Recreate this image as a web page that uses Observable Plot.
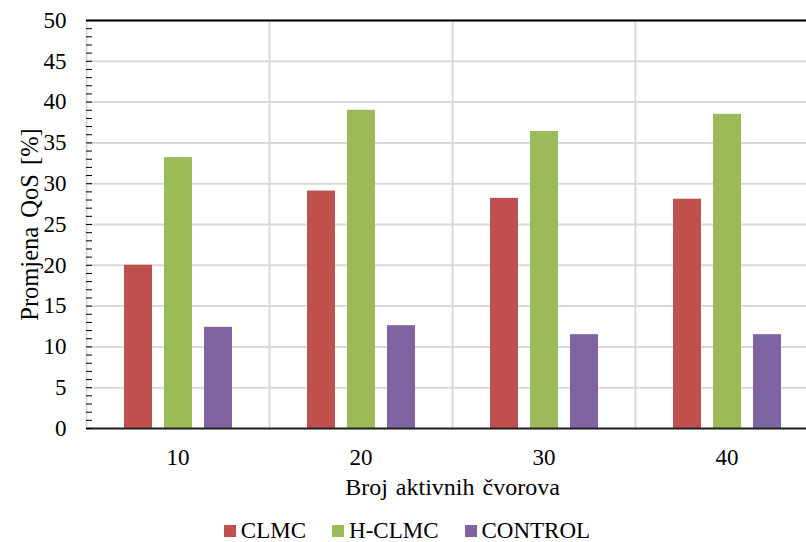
<!DOCTYPE html>
<html>
<head>
<meta charset="utf-8">
<script src="https://cdn.jsdelivr.net/npm/d3@7"></script>
<script src="https://cdn.jsdelivr.net/npm/@observablehq/plot@0.6"></script>
<style>
  html, body { margin: 0; padding: 0; background: #fff; overflow: hidden; }
  #chart { width: 806px; height: 542px; font-family: "Liberation Serif", "Times New Roman", serif; }
  #chart svg text { font-size: 23px; fill: #000; }
  #chart svg g[aria-label="y-axis label"] text { font-size: 24.5px; word-spacing: 3px; }
  #chart svg g[aria-label="fx-axis label"] text { font-size: 24px; word-spacing: 2px; }
  .legend { display: flex; justify-content: center; align-items: center; gap: 26px; font-size: 23px; color: #000; margin-top: 16px; padding-left: 8px; }
  .legend span.item { display: flex; align-items: center; }
  .legend span.sw { display: inline-block; width: 12px; height: 12px; margin-right: 5px; }
</style>
</head>
<body>
<div id="chart"></div>
<script>
const groups = ["10", "20", "30", "40"];
const series = ["CLMC", "H-CLMC", "CONTROL"];
const colors = ["#C0504D", "#9BBB59", "#8064A2"];
const clmc = [20.0, 29.1, 28.2, 28.1];
const hclmc = [33.2, 39.0, 36.4, 38.5];
const control = [12.4, 12.6, 11.5, 11.5];
const yTicks = [0, 5, 10, 15, 20, 25, 30, 35, 40, 45, 50];
const yMinor = d3.range(0, 51, 1);
const xTitle = "Broj aktivnih čvorova";
const yTitle = "Promjena QoS [%]";

const values = [clmc, hclmc, control];
const data = [];
groups.forEach((g, i) => series.forEach((s, j) => data.push({group: g, series: s, value: values[j][i]})));

const plot = Plot.plot({
  width: 806,
  height: 502,
  marginLeft: 86,
  marginRight: -12,
  marginTop: 20,
  marginBottom: 74,
  style: {fontFamily: "Liberation Serif, Times New Roman, serif", fontSize: "23px", color: "#000", background: "#fff", overflow: "visible"},
  fx: {domain: groups, padding: 0, label: xTitle},
  x: {domain: series, paddingInner: 0.3, paddingOuter: 0.9375, axis: null},
  y: {domain: [0, 50], label: yTitle},
  color: {domain: series, range: colors},
  marks: [
    Plot.gridY(yTicks, {stroke: "#d9d9d9", strokeOpacity: 1, strokeWidth: 2}),
    Plot.frame({anchor: "left", stroke: "#d9d9d9", strokeWidth: 2}),
    Plot.barY(data, {fx: "group", x: "series", y: "value", fill: "series", insetLeft: 0, insetRight: 0}),
    Plot.ruleY([0], {stroke: "#222", strokeWidth: 2}),
    Plot.ruleY([50], {stroke: "#000", strokeWidth: 2}),
    Plot.axisY(yMinor, {tickSize: 6, dx: 6, tickFormat: () => "", stroke: "#000", label: null}),
    Plot.axisY(yTicks, {tickSize: 0, tickPadding: 20, line: true, stroke: "#000", strokeWidth: 2, label: yTitle, labelAnchor: "center", labelArrow: "none", labelOffset: 66}),
    Plot.axisFx({anchor: "bottom", tickSize: 0, tickPadding: 20, label: xTitle, labelAnchor: "center", labelArrow: "none", labelOffset: 66})
  ]
});
document.getElementById("chart").appendChild(plot);

const legend = document.createElement("div");
legend.className = "legend";
series.forEach((s, j) => {
  const item = document.createElement("span");
  item.className = "item";
  const sw = document.createElement("span");
  sw.className = "sw";
  sw.style.background = colors[j];
  item.appendChild(sw);
  item.appendChild(document.createTextNode(s));
  legend.appendChild(item);
});
document.getElementById("chart").appendChild(legend);
</script>
</body>
</html>
